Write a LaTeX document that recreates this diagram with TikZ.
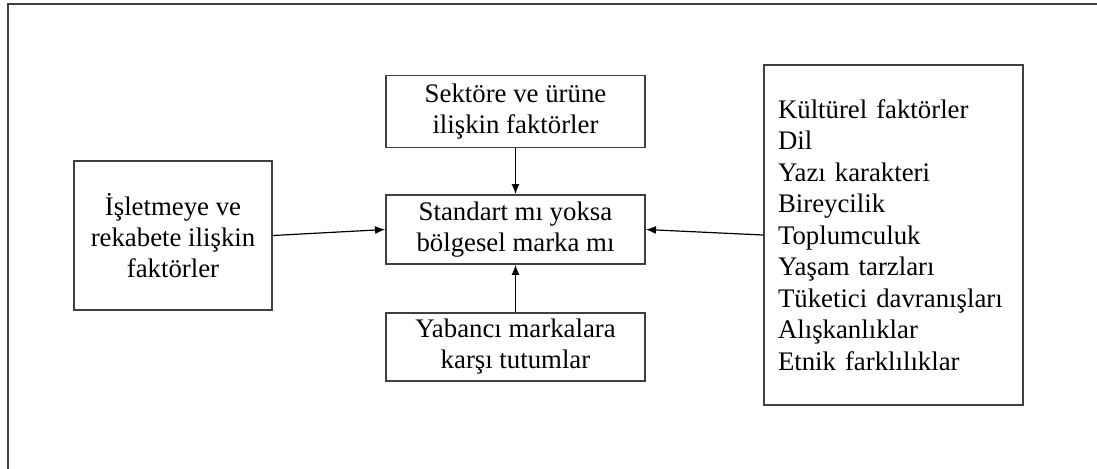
\documentclass[tikz,border=0pt]{standalone}
\usepackage{fontspec}
\setmainfont{Liberation Serif}
\usetikzlibrary{arrows.meta}

\begin{document}
\begin{tikzpicture}[x=0.5pt, y=-0.5pt,
    kutu/.style={shape=rectangle, draw=black!75, line width=0.9pt, align=center, inner sep=0pt,
      font=\fontsize{13.4}{15.5}\selectfont},
    ok/.style={-{Latex[length=5pt,width=4pt]}, line width=0.6pt}]
    \useasboundingbox (0,0) rectangle (1097,468);
    \begin{scope}
      \clip (0,0) rectangle (1097,468);
      \draw[black!75, line width=1pt] (8,480) -- (8,4) -- (1110,4);
    \end{scope}

    % ortadaki kutular
    \node[kutu, minimum width=129.5pt, minimum height=36pt] (sektor) at (515.5,111.5) {Sektöre ve ürüne\\ilişkin faktörler};
    \node[kutu, minimum width=129.5pt, minimum height=34.5pt] (secim) at (515.5,229.5) {Standart mı yoksa\\bölgesel marka mı};
    \node[kutu, minimum width=129.5pt, minimum height=34pt] (yabanci) at (515.5,347) {Yabancı markalara\\karşı tutumlar};

    % yan kutular
    \node[kutu, minimum width=99pt, minimum height=74.5pt] (isletme) at (173,235.5) {İşletmeye ve\\rekabete ilişkin\\faktörler};
    \node[kutu, align=left, text width=115.5pt, inner xsep=7pt, minimum height=170pt,
      font=\fontsize{13.4}{15.75}\selectfont] (kultur) at (893.5,235)
      {Kültürel faktörler\\Dil\\Yazı karakteri\\Bireycilik\\Toplumculuk\\Yaşam tarzları\\Tüketici davranışları\\Alışkanlıklar\\Etnik farklılıklar};

    \draw[ok] (sektor) -- (secim);
    \draw[ok] (yabanci) -- (secim);
    \draw[ok] (isletme.east) -- (secim.west);
    \draw[ok] (kultur.west) -- (secim.east);
\end{tikzpicture}
\end{document}
